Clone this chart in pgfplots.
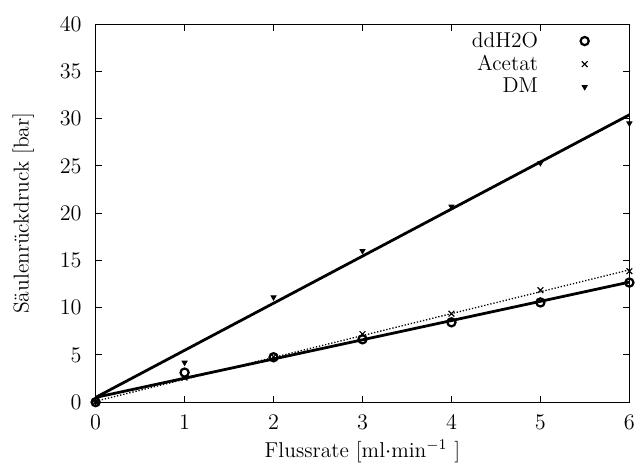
\documentclass[border=0pt]{standalone}
\usepackage{fontspec}
\usepackage{pgfplots}
\pgfplotsset{compat=1.18}
\begin{document}
\fontsize{11.6pt}{14pt}\selectfont
\begin{tikzpicture}
\begin{axis}[
  scale only axis,
  width=288pt, height=204pt,
  xmin=0, xmax=6, ymin=0, ymax=40,
  xtick={0,1,2,3,4,5,6},
  ytick={0,5,10,15,20,25,30,35,40},
  tick align=inside,
  major tick length=3.5pt,
  axis line style={line width=0.6pt},
  every tick/.style={black, line width=0.5pt},
  xticklabel style={yshift=-3pt},
  yticklabel style={xshift=-3.5pt},
  xlabel={Flussrate [ml$\cdot$min$^{-1}$ ]},
  ylabel={Säulenrückdruck [bar]},
  every axis x label/.style={at={(axis description cs:0.5,0)}, anchor=center, yshift=-26.5pt},
  every axis y label/.style={at={(axis description cs:0,0.5)}, rotate=90, anchor=center, yshift=39pt},
  legend style={draw=none, fill=none, at={(0.935,1.0)}, anchor=north east, row sep=-1.5pt, column sep=21pt},
  legend cell align=right,
  legend plot pos=right,
  clip=false,
]
\addplot[only marks, mark=o, mark size=2.2pt, line width=1.2pt] coordinates {
(0,0) (1,3.13) (2,4.75) (3,6.65) (4,8.45) (5,10.55) (6,12.65)};
\addlegendentry{ddH2O}
\addplot[only marks, mark=x, mark size=2.2pt, line width=0.6pt] coordinates {
(0,0.05) (1,2.6) (2,4.8) (3,7.2) (4,9.36) (5,11.85) (6,13.86)};
\addlegendentry{Acetat}
\addplot[only marks, mark=triangle*, mark options={rotate=180}, mark size=1.6pt] coordinates {
(0,0) (1,4.19) (2,11.1) (3,16.0) (4,20.7) (5,25.3) (6,29.5)};
\addlegendentry{DM}
\addplot[forget plot, line width=1.5pt] coordinates {(0,0.5) (6,12.7)};
\addplot[forget plot, densely dotted, line width=0.7pt] coordinates {(0,0.1) (6,14.0)};
\addplot[forget plot, line width=1.5pt] coordinates {(0,0.5) (6,30.4)};
\path (rel axis cs:1,1) ++(5.4pt,13pt);
\path (rel axis cs:0,0.5) ++(-51.6pt,0pt);
\end{axis}
\end{tikzpicture}
\end{document}
